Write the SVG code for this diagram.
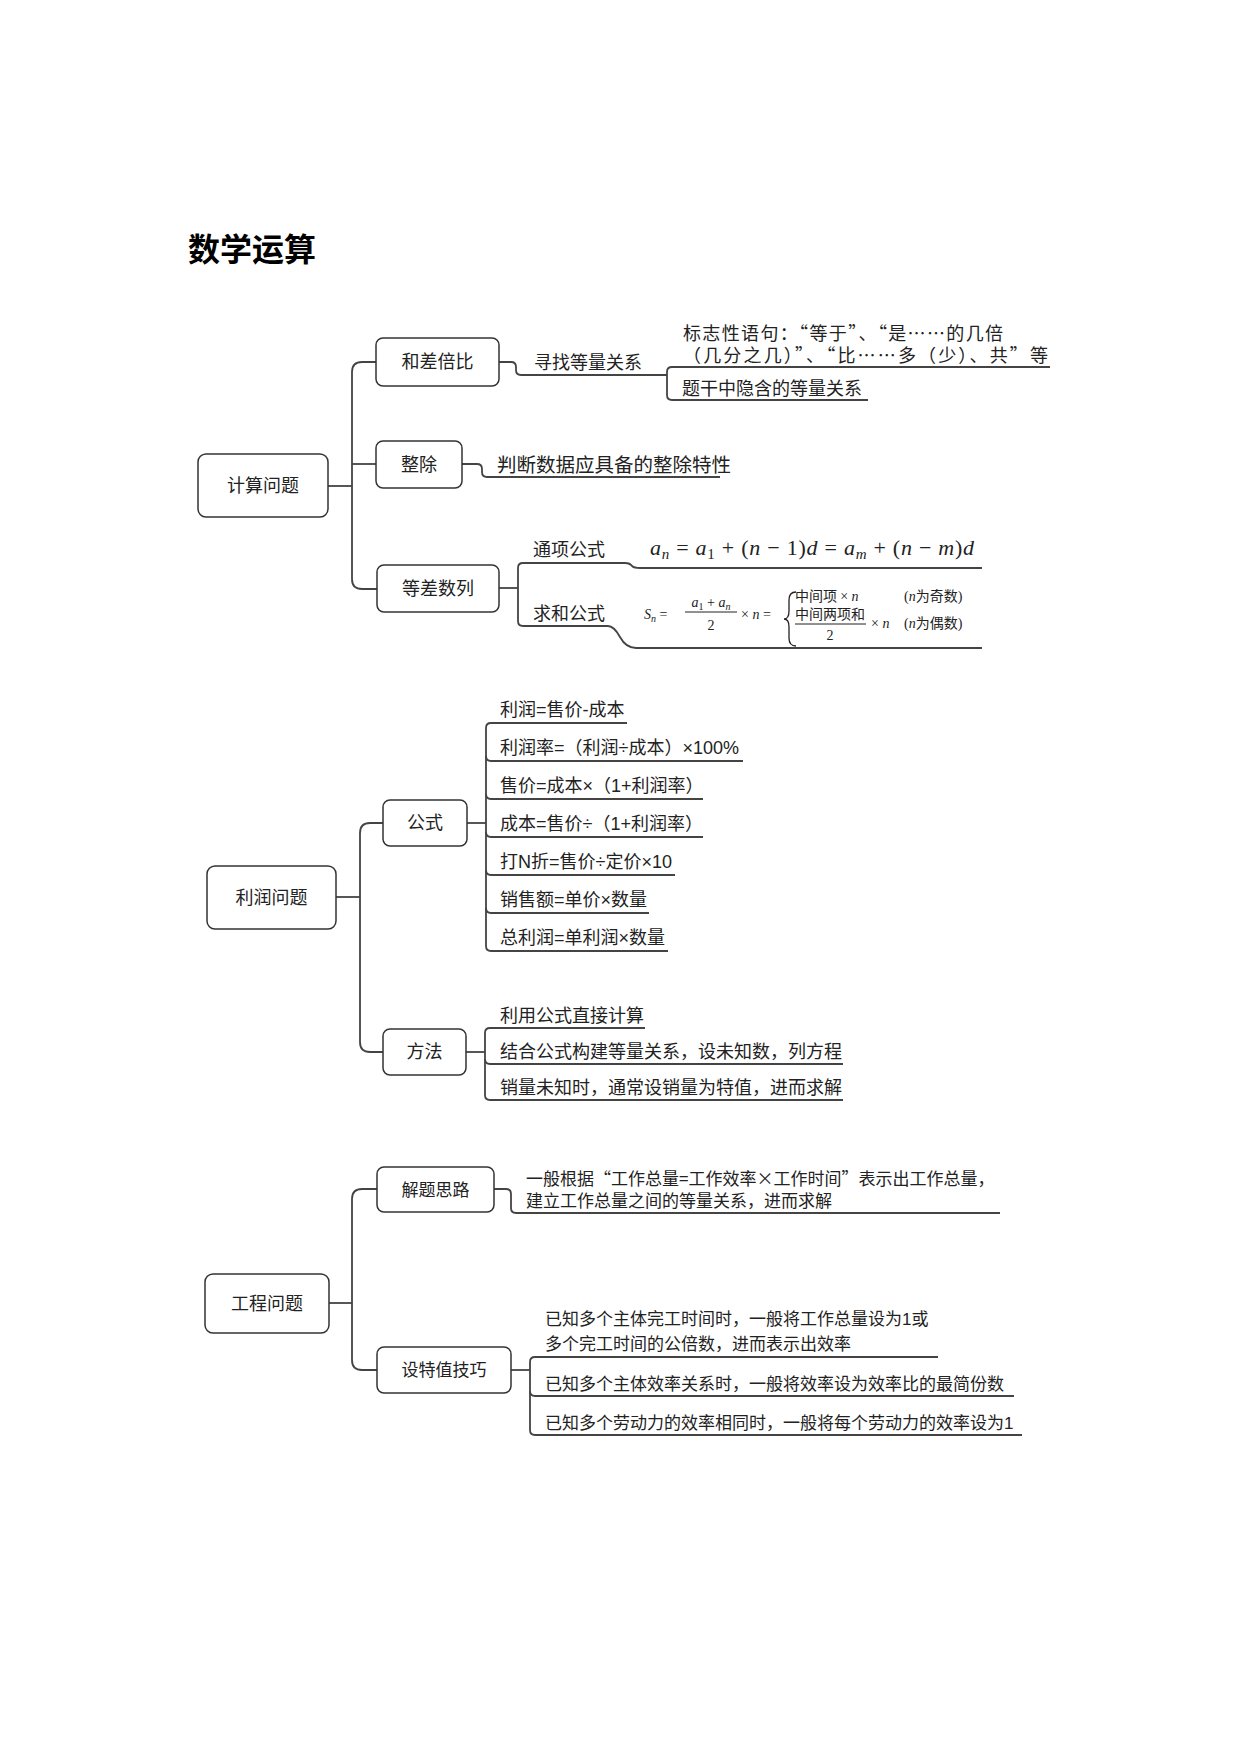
<svg xmlns="http://www.w3.org/2000/svg" width="1240" height="1754" viewBox="0 0 1240 1754">
<style>
text{font-family:"Noto Sans CJK SC","Noto Sans",sans-serif;fill:#222;}
.t{font-size:18px;}
.s{font-size:17px;}
.c{text-anchor:middle;}
.lat{font-family:"Liberation Sans","Noto Sans CJK SC",sans-serif;}
.box{fill:#fff;stroke:#333;stroke-width:1.5;}
.ln{fill:none;stroke:#444;stroke-width:1.8;}
.m{font-family:"Liberation Serif","DejaVu Serif",serif;}
.mi{font-family:"Liberation Serif","DejaVu Serif",serif;font-style:italic;}
.f{font-size:14px;}
</style>
<rect width="1240" height="1754" fill="#fff"/>
<text x="188" y="261" style="font-size:32px;font-weight:bold;fill:#000">数学运算</text>

<g id="connectors">
<!-- section 1 -->
<path class="ln" d="M328 486 H352"/>
<path class="ln" d="M376 362 H362 Q352 362 352 372 V579 Q352 589 362 589 H377"/>
<path class="ln" d="M352 464 H376"/>
<path class="ln" d="M499 362 H511 Q516 362 516 367 V370 Q516 375 521 375 H667"/>
<path class="ln" d="M1050 367 H672 Q667 367 667 372 V395 Q667 400 672 400 H868"/>
<path class="ln" d="M462 464 H477 Q482 464 482 469 V472 Q482 477 487 477 H720"/>
<path class="ln" d="M499 588 H518"/>
<path class="ln" d="M982 568 H640 Q634 568 632 566 Q630 563 625 563 H523 Q518 563 518 568 V621 Q518 626 523 626 H608 Q614 626 620 637 Q626 648 636 648 H982"/>
<!-- section 2 -->
<path class="ln" d="M336 897 H360"/>
<path class="ln" d="M383 823 H370 Q360 823 360 833 V1042 Q360 1052 370 1052 H383"/>
<path class="ln" d="M467 823 H486"/>
<path class="ln" d="M627 723 H491 Q486 723 486 728 V946 Q486 951 491 951 H668"/>
<path class="ln" d="M486 756 Q486 761 491 761 H743"/>
<path class="ln" d="M486 794 Q486 799 491 799 H703"/>
<path class="ln" d="M486 832 Q486 837 491 837 H703"/>
<path class="ln" d="M486 870 Q486 875 491 875 H675"/>
<path class="ln" d="M486 908 Q486 913 491 913 H649"/>
<path class="ln" d="M466 1052 H485"/>
<path class="ln" d="M645 1028 H490 Q485 1028 485 1033 V1095 Q485 1100 490 1100 H843"/>
<path class="ln" d="M485 1059 Q485 1064 490 1064 H843"/>
<!-- section 3 -->
<path class="ln" d="M329 1303 H352"/>
<path class="ln" d="M377 1189 H362 Q352 1189 352 1199 V1360 Q352 1370 362 1370 H377"/>
<path class="ln" d="M494 1189 H506 Q511 1189 511 1194 V1208 Q511 1213 516 1213 H1000"/>
<path class="ln" d="M511 1370 H530"/>
<path class="ln" d="M938 1357 H535 Q530 1357 530 1362 V1430 Q530 1435 535 1435 H1022"/>
<path class="ln" d="M530 1391 Q530 1396 535 1396 H1014"/>
</g>

<g id="n-jisuan"><rect class="box" x="198" y="454" width="130" height="63" rx="8"/><text class="t c" x="263" y="492">计算问题</text></g>
<g id="n-hecha"><rect class="box" x="376" y="338" width="123" height="48" rx="7"/><text class="t c" x="437.5" y="368">和差倍比</text></g>
<g id="n-zhengchu"><rect class="box" x="376" y="441" width="86" height="47" rx="7"/><text class="t c" x="419" y="471">整除</text></g>
<g id="n-dengcha"><rect class="box" x="377" y="565" width="122" height="47" rx="7"/><text class="t c" x="438" y="595">等差数列</text></g>
<g id="n-xunzhao"><text class="t" x="534" y="369">寻找等量关系</text></g>
<g id="n-biaozhi"><text class="t" x="683" y="340" textLength="320" lengthAdjust="spacing">标志性语句：“等于”、“是……的几倍</text><text class="t" x="683" y="362" textLength="365" lengthAdjust="spacing">（几分之几）”、“比……多（少）、共”等</text></g>
<g id="n-tigan"><text class="t" x="682" y="395">题干中隐含的等量关系</text></g>
<g id="n-panduan"><text x="497" y="472" style="font-size:19.5px">判断数据应具备的整除特性</text></g>
<g id="n-tongxiang"><text class="t" x="533" y="556">通项公式</text>
<text x="650" y="555" style="font-size:22px" textLength="324" lengthAdjust="spacing"><tspan class="mi">a</tspan><tspan class="mi" style="font-size:15px" dy="4">n</tspan><tspan class="m" dy="-4"> = </tspan><tspan class="mi">a</tspan><tspan class="m" style="font-size:15px" dy="4">1</tspan><tspan class="m" dy="-4"> + (</tspan><tspan class="mi">n</tspan><tspan class="m"> − 1)</tspan><tspan class="mi">d</tspan><tspan class="m"> = </tspan><tspan class="mi">a</tspan><tspan class="mi" style="font-size:15px" dy="4">m</tspan><tspan class="m" dy="-4"> + (</tspan><tspan class="mi">n</tspan><tspan class="m"> − </tspan><tspan class="mi">m</tspan><tspan class="m">)</tspan><tspan class="mi">d</tspan></text></g>
<g id="n-qiuhe"><text class="t" x="533" y="620">求和公式</text>
<text class="f" x="644" y="619"><tspan class="mi">S</tspan><tspan class="mi" style="font-size:10px" dy="3">n</tspan><tspan class="m" dy="-3"> =</tspan></text>
<text class="f c" x="711" y="607"><tspan class="mi">a</tspan><tspan class="m" style="font-size:10px" dy="3">1</tspan><tspan class="m" dy="-3"> + </tspan><tspan class="mi">a</tspan><tspan class="mi" style="font-size:10px" dy="3">n</tspan></text>
<path d="M685 612 H737" stroke="#222" stroke-width="1"/>
<text class="f c m" x="711" y="630">2</text>
<text class="f" x="741" y="619"><tspan class="m">× </tspan><tspan class="mi">n</tspan><tspan class="m"> =</tspan></text>
<path d="M796 592 Q789 592 789 600 V611 Q789 619 784 619 Q789 619 789 627 V638 Q789 646 796 646" fill="none" stroke="#222" stroke-width="1.3"/>
<text class="f" x="795" y="601">中间项 <tspan class="m">× </tspan><tspan class="mi">n</tspan></text>
<text class="f" x="904" y="601"><tspan class="m">(</tspan><tspan class="mi">n</tspan>为奇数<tspan class="m">)</tspan></text>
<text class="f" x="795" y="619">中间两项和</text>
<path d="M795 624 H866" stroke="#222" stroke-width="1"/>
<text class="f c m" x="830" y="640">2</text>
<text class="f" x="871" y="628"><tspan class="m">× </tspan><tspan class="mi">n</tspan></text>
<text class="f" x="904" y="628"><tspan class="m">(</tspan><tspan class="mi">n</tspan>为偶数<tspan class="m">)</tspan></text></g>

<g id="n-lirun"><rect class="box" x="207" y="866" width="129" height="63" rx="8"/><text class="t c" x="271.5" y="904">利润问题</text></g>
<g id="n-gongshi"><rect class="box" x="383" y="800" width="84" height="46" rx="7"/><text class="t c" x="425" y="829">公式</text></g>
<g id="n-fangfa"><rect class="box" x="383" y="1029" width="83" height="46" rx="7"/><text class="t c" x="424.5" y="1058">方法</text></g>
<g id="n-f1"><text class="t lat" x="500" y="716">利润=售价-成本</text></g>
<g id="n-f2"><text class="t lat" x="500" y="754">利润率=（利润÷成本）×100%</text></g>
<g id="n-f3"><text class="t lat" x="500" y="792">售价=成本×（1+利润率）</text></g>
<g id="n-f4"><text class="t lat" x="500" y="830">成本=售价÷（1+利润率）</text></g>
<g id="n-f5"><text class="t lat" x="500" y="868">打N折=售价÷定价×10</text></g>
<g id="n-f6"><text class="t lat" x="500" y="906">销售额=单价×数量</text></g>
<g id="n-f7"><text class="t lat" x="500" y="944">总利润=单利润×数量</text></g>
<g id="n-m1"><text class="t" x="500" y="1022">利用公式直接计算</text></g>
<g id="n-m2"><text class="t" x="500" y="1058">结合公式构建等量关系，设未知数，列方程</text></g>
<g id="n-m3"><text class="t" x="500" y="1094">销量未知时，通常设销量为特值，进而求解</text></g>

<g id="n-gongcheng"><rect class="box" x="205" y="1274" width="124" height="59" rx="8"/><text class="t c" x="267" y="1310">工程问题</text></g>
<g id="n-jieti"><rect class="box" x="377" y="1167" width="117" height="45" rx="7"/><text class="s c" x="435.5" y="1196">解题思路</text></g>
<g id="n-tezhi"><rect class="box" x="377" y="1347" width="134" height="46" rx="7"/><text class="s c" x="444" y="1376">设特值技巧</text></g>
<g id="n-jieti-t"><text class="s" x="526" y="1185">一般根据“工作总量=工作效率×工作时间”表示出工作总量，</text><text class="s" x="526" y="1207">建立工作总量之间的等量关系，进而求解</text></g>
<g id="n-t1"><text class="s lat" x="545" y="1325">已知多个主体完工时间时，一般将工作总量设为1或</text><text class="s" x="545" y="1350">多个完工时间的公倍数，进而表示出效率</text></g>
<g id="n-t2"><text class="s" x="545" y="1390">已知多个主体效率关系时，一般将效率设为效率比的最简份数</text></g>
<g id="n-t3"><text class="s lat" x="545" y="1429">已知多个劳动力的效率相同时，一般将每个劳动力的效率设为1</text></g>
</svg>
